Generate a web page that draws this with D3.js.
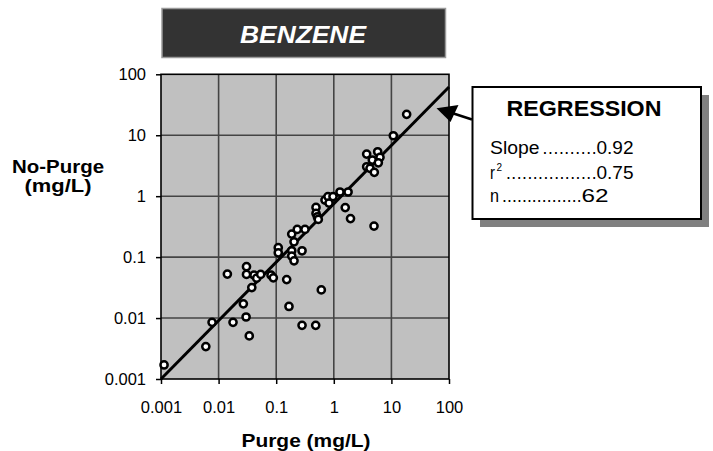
<!DOCTYPE html>
<html>
<head>
<meta charset="utf-8">
<script src="https://cdn.jsdelivr.net/npm/d3@7/dist/d3.min.js"></script>
<style>
  body { margin: 0; background: #fff; }
  svg { display: block; font-family: Arial, "Liberation Sans", sans-serif; }
</style>
</head>
<body>
<div class="chart"></div>
<script>
// data (mg/L)
var purge = [0.00113, 0.0060, 0.0077, 0.0142, 0.0178, 0.0269, 0.0305, 0.0305, 0.030, 0.0341,
  0.0377, 0.0412, 0.0458, 0.0538, 0.0813, 0.0891, 0.1086, 0.1086, 0.152, 0.1667,
  0.186, 0.232, 0.316, 0.204, 0.186, 0.186, 0.204, 0.281, 0.281, 0.485,
  0.607, 0.491, 0.491, 0.518, 0.538, 0.703, 0.792, 0.826, 0.968, 1.28,
  1.77, 1.58, 1.95, 4.99, 18.4, 10.8, 5.78, 3.72, 6.34, 4.66,
  5.93, 3.72, 4.25, 5.05];
var noPurge = [0.0017, 0.0034, 0.0085, 0.0526, 0.0085, 0.0171, 0.0698, 0.052, 0.0104, 0.0051,
  0.0316, 0.0506, 0.0452, 0.052, 0.0506, 0.0457, 0.143, 0.1178, 0.0428, 0.0155,
  0.239, 0.285, 0.285, 0.178, 0.127, 0.104, 0.0869, 0.127, 0.0076, 0.0076,
  0.029, 0.655, 0.522, 0.459, 0.416, 0.863, 0.984, 0.771, 0.984, 1.17,
  1.17, 0.650, 0.429, 0.323, 22.0, 9.8, 5.36, 4.91, 4.34, 3.92,
  3.53, 3.04, 2.86, 2.46];
var tickValues = [0.001, 0.01, 0.1, 1, 10, 100];
var tickLabels = ["0.001", "0.01", "0.1", "1", "10", "100"];
var fitX = [0.001, 100];
var fitY = [0.001, 62];
var statNames = ["Slope", "r", "n"];
var statSups = ["", "2", ""];
var statDots = ["..........", ".................", "................"];
var statValues = ["0.92", "0.75", "62"];

var width = 713, height = 451,
  plot = {left: 161, right: 449, top: 74.3, bottom: 379};

var svg = d3.select(".chart").append("svg")
  .attr("width", width)
  .attr("height", height);

var x = d3.scaleLog().domain([0.001, 100]).range([plot.left, plot.right]);
var y = d3.scaleLog().domain([0.001, 100]).range([plot.bottom, plot.top]);

// title box
svg.append("rect")
  .attr("x", 162).attr("y", 8.5).attr("width", 283.5).attr("height", 49)
  .attr("fill", "#333").attr("stroke", "#9a9a9a").attr("stroke-width", 1.5);
svg.append("text")
  .attr("x", 240).attr("y", 42.5)
  .attr("textLength", 126).attr("lengthAdjust", "spacingAndGlyphs")
  .attr("fill", "#fff").attr("font-size", 24.5)
  .attr("font-weight", "bold").attr("font-style", "italic")
  .text("BENZENE");

// plot area
svg.append("rect")
  .attr("x", plot.left).attr("y", plot.top)
  .attr("width", plot.right - plot.left).attr("height", plot.bottom - plot.top)
  .attr("fill", "#c0c0c0");

var grid = svg.append("g");
grid.selectAll(".gx")
  .data(tickValues.slice(1, -1)).enter()
  .append("line")
    .attr("x1", function(d) { return x(d); })
    .attr("x2", function(d) { return x(d); })
    .attr("y1", plot.top).attr("y2", plot.bottom)
    .attr("stroke", "#444").attr("stroke-width", 1.6);
grid.selectAll(".gy")
  .data(tickValues.slice(1, -1)).enter()
  .append("line")
    .attr("y1", function(d) { return y(d); })
    .attr("y2", function(d) { return y(d); })
    .attr("x1", plot.left).attr("x2", plot.right)
    .attr("stroke", "#444").attr("stroke-width", 1.6);

svg.append("rect")
  .attr("x", plot.left).attr("y", plot.top)
  .attr("width", plot.right - plot.left).attr("height", plot.bottom - plot.top)
  .attr("fill", "none").attr("stroke", "#000").attr("stroke-width", 1.6);

// axes
var fmt = function(d) { return tickLabels[tickValues.indexOf(d)]; };
var xAxis = svg.append("g")
  .attr("transform", "translate(0," + plot.bottom + ")")
  .call(d3.axisBottom(x).tickValues(tickValues).tickFormat(fmt).tickSize(5).tickPadding(17));
var yAxis = svg.append("g")
  .attr("transform", "translate(" + plot.left + ",0)")
  .call(d3.axisLeft(y).tickValues(tickValues).tickFormat(fmt).tickSize(5).tickPadding(10));
[xAxis, yAxis].forEach(function(a) {
  a.select(".domain").remove();
  a.selectAll("line").attr("stroke", "#000").attr("stroke-width", 1.5);
  a.selectAll("text").attr("font-size", 16.5).attr("fill", "#000")
    .attr("font-family", "Arial, 'Liberation Sans', sans-serif");
});

// regression line
svg.append("line")
  .attr("x1", x(fitX[0])).attr("y1", y(fitY[0]))
  .attr("x2", x(fitX[1])).attr("y2", y(fitY[1]))
  .attr("stroke", "#000").attr("stroke-width", 3);

// points
svg.append("g").selectAll("circle")
  .data(purge).enter()
  .append("circle")
    .attr("cx", function(d) { return x(d); })
    .attr("cy", function(d, i) { return y(noPurge[i]); })
    .attr("r", 3.6)
    .attr("fill", "#fff").attr("stroke", "#000").attr("stroke-width", 2.5);

// axis titles
svg.append("text")
  .attr("x", 306).attr("y", 446.5).attr("text-anchor", "middle")
  .attr("font-size", 19).attr("font-weight", "bold")
  .attr("textLength", 129).attr("lengthAdjust", "spacingAndGlyphs")
  .text("Purge (mg/L)");
svg.append("text")
  .attr("x", 58).attr("y", 173).attr("text-anchor", "middle")
  .attr("font-size", 19).attr("font-weight", "bold")
  .attr("textLength", 92).attr("lengthAdjust", "spacingAndGlyphs")
  .text("No-Purge");
svg.append("text")
  .attr("x", 58).attr("y", 192).attr("text-anchor", "middle")
  .attr("font-size", 19).attr("font-weight", "bold")
  .attr("textLength", 67).attr("lengthAdjust", "spacingAndGlyphs")
  .text("(mg/L)");

// regression box with shadow
svg.append("rect")
  .attr("x", 480).attr("y", 95).attr("width", 229).attr("height", 132)
  .attr("fill", "#808080");
svg.append("rect")
  .attr("x", 472.5).attr("y", 87).attr("width", 228.5).attr("height", 132)
  .attr("fill", "#fff").attr("stroke", "#000").attr("stroke-width", 2);
svg.append("text")
  .attr("x", 506.5).attr("y", 115.5)
  .attr("textLength", 155).attr("lengthAdjust", "spacingAndGlyphs")
  .attr("font-size", 21.5).attr("font-weight", "bold")
  .text("REGRESSION");

var rowY = [154, 178.5, 202];
var nameEnd = [539.5, 495, 499];
var dotsEnd = [596.5, 596.5, 581.5];
var valEnd = [633.5, 633.5, 608.5];
var stats = svg.append("g").attr("font-size", 17.5).attr("fill", "#000");
statNames.forEach(function(name, i) {
  stats.append("text").attr("x", 490).attr("y", rowY[i])
    .attr("textLength", nameEnd[i] - 490).attr("lengthAdjust", "spacingAndGlyphs")
    .text(name);
  var dotsStart = nameEnd[i] + 3;
  if (statSups[i]) {
    stats.append("text").attr("x", nameEnd[i] + 1.5).attr("y", rowY[i] - 8)
      .attr("font-size", 10).text(statSups[i]);
    dotsStart = nameEnd[i] + 11;
  }
  stats.append("text").attr("x", dotsStart).attr("y", rowY[i])
    .attr("textLength", dotsEnd[i] - dotsStart).attr("lengthAdjust", "spacing")
    .text(statDots[i]);
  stats.append("text").attr("x", dotsEnd[i]).attr("y", rowY[i])
    .attr("textLength", valEnd[i] - dotsEnd[i]).attr("lengthAdjust", "spacingAndGlyphs")
    .text(statValues[i]);
});

// arrow from box to the regression line
svg.append("line")
  .attr("x1", 472).attr("y1", 119.5).attr("x2", 452).attr("y2", 113)
  .attr("stroke", "#000").attr("stroke-width", 2.5);
svg.append("path")
  .attr("d", "M436.5,108.3 L458.5,105 L450.5,122 Z")
  .attr("fill", "#000");
</script>
</body>
</html>
